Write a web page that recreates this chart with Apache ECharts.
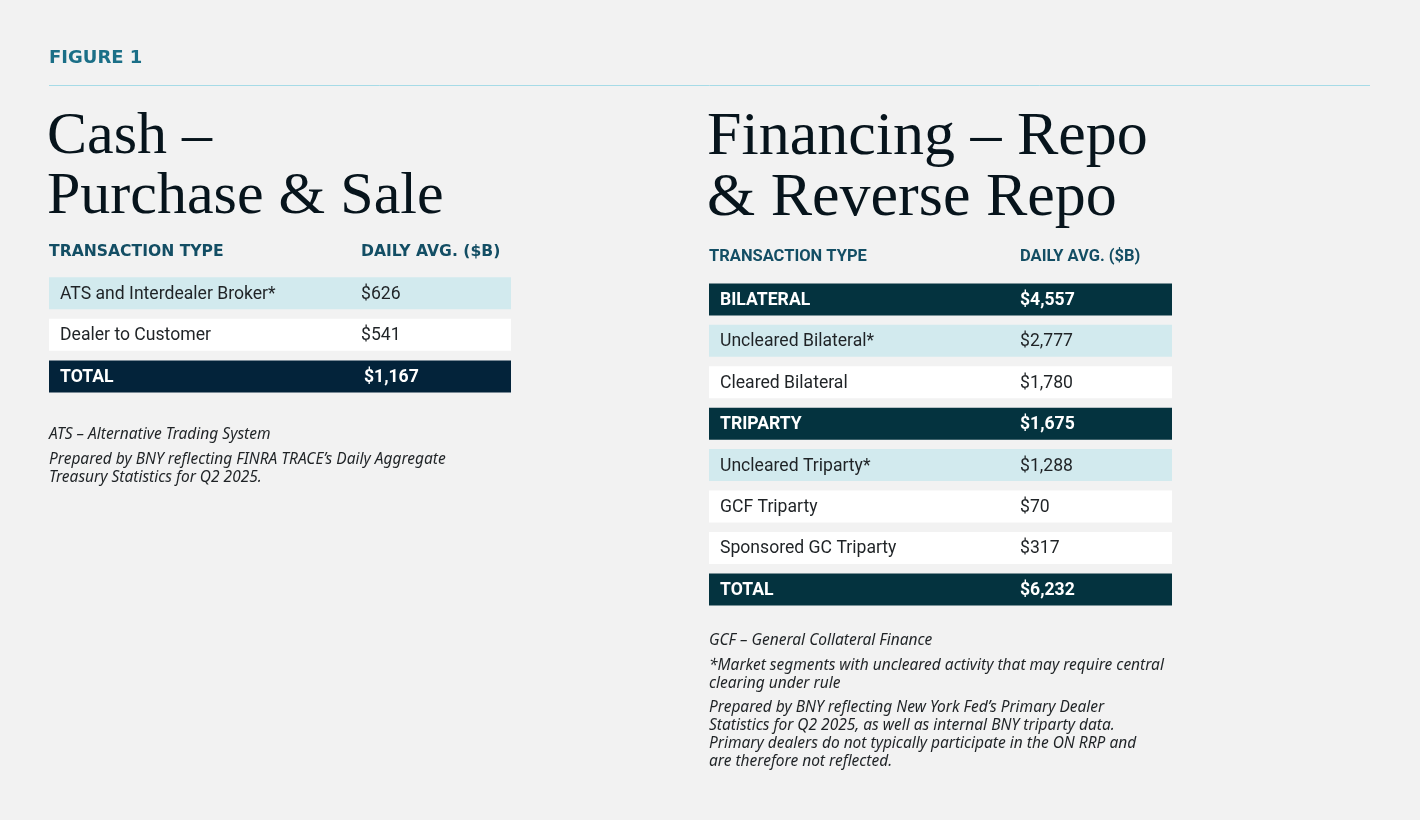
<!DOCTYPE html>
<html>
<head>
<meta charset="utf-8">
<script src="https://cdn.jsdelivr.net/npm/echarts@6/dist/echarts.min.js"></script>
<style>
  html, body { margin: 0; padding: 0; background: #f2f2f2; }
  #chart { width: 1420px; height: 820px; }
</style>
</head>
<body>
<div id="chart"></div>
<script>
// cash table
const cashLabels = ['ATS and Interdealer Broker*', 'Dealer to Customer', 'TOTAL'];
const cashValues = [626, 541, 1167];
const cashKinds = ['uncleared', 'plain', 'total'];

// financing table
const repoLabels = ['BILATERAL', 'Uncleared Bilateral*', 'Cleared Bilateral', 'TRIPARTY',
    'Uncleared Triparty*', 'GCF Triparty', 'Sponsored GC Triparty', 'TOTAL'];
const repoValues = [4557, 2777, 1780, 1675, 1288, 70, 317, 6232];
const repoKinds = ['group', 'uncleared', 'plain', 'group', 'uncleared', 'plain', 'plain', 'total'];

const headers = ['TRANSACTION TYPE', 'DAILY AVG. ($B)'];

const cashNotes = [
    'ATS \u2013 Alternative Trading System',
    'Prepared by BNY reflecting FINRA TRACE\u2019s Daily Aggregate',
    'Treasury Statistics for Q2 2025.'
];
const repoNotes = [
    'GCF \u2013 General Collateral Finance',
    '*Market segments with uncleared activity that may require central',
    'clearing under rule',
    'Prepared by BNY reflecting New York Fed\u2019s Primary Dealer',
    'Statistics for Q2 2025, as well as internal BNY triparty data.',
    'Primary dealers do not typically participate in the ON RRP and',
    'are therefore not reflected.'
];

const SANS = 'Roboto, "Noto Sans", sans-serif';
const NOTE = '"Noto Sans", Roboto, sans-serif';
const SERIF = '"Liberation Serif", serif';
const INK = '#1f2326';
const HEAD = '#134e64';

const fills = {
    plain: '#ffffff',
    uncleared: '#d2eaee',
    group: '#04333f',
    total: '#04333f'
};

function fmt(v) {
    return '$' + v.toLocaleString('en-US');
}

function rowRenderer(labels, values, kinds, valueOffset, totalFill) {
    return function (params, api) {
        const i = api.value(0);
        const a = api.coord([0, i]);
        const b = api.coord([1, i]);
        const h = 32;
        const kind = kinds[i];
        const dark = kind === 'group' || kind === 'total';
        let fill = fills[kind];
        if (kind === 'total' && totalFill) fill = totalFill;
        const weight = dark ? 'bold ' : '';
        const color = dark ? '#ffffff' : INK;
        const vOff = (kind === 'total' && totalFill) ? valueOffset + 3 : valueOffset;
        return {
            type: 'group',
            children: [
                {
                    type: 'rect',
                    shape: { x: a[0], y: a[1] - h / 2, width: b[0] - a[0], height: h },
                    style: { fill: fill }
                },
                {
                    type: 'text',
                    x: a[0] + 11, y: a[1] + 1,
                    style: {
                        text: labels[i], fill: color,
                        font: weight + '17.6px ' + SANS,
                        verticalAlign: 'middle'
                    }
                },
                {
                    type: 'text',
                    x: a[0] + vOff, y: a[1] + 1,
                    style: {
                        text: fmt(values[i]), fill: color,
                        font: weight + '17.6px ' + SANS,
                        verticalAlign: 'middle'
                    }
                }
            ]
        };
    };
}

function txt(x, y, text, font, fill) {
    return { type: 'text', x: x, y: y, style: { text: text, font: font, fill: fill, verticalAlign: 'middle' } };
}

const chart = echarts.init(document.getElementById('chart'));

const graphics = [
    txt(49, 58, 'FIGURE 1', 'bold 18px "DejaVu Sans", sans-serif', '#1b6f87'),
    { type: 'line', shape: { x1: 49, y1: 85.5, x2: 1370, y2: 85.5 }, style: { stroke: '#a6dbe7', lineWidth: 1 } },
    txt(47, 137, 'Cash \u2013', '60px ' + SERIF, '#07141c'),
    txt(47, 197, 'Purchase & Sale', '60px ' + SERIF, '#07141c'),
    txt(707, 138, 'Financing \u2013 Repo', '62px ' + SERIF, '#07141c'),
    txt(707, 199, '& Reverse Repo', '62px ' + SERIF, '#07141c'),
    txt(49, 252, headers[0], 'bold 15.6px "DejaVu Sans", sans-serif', HEAD),
    txt(361, 252, headers[1], 'bold 15.6px "DejaVu Sans", sans-serif', HEAD),
    txt(709, 257, headers[0], 'bold 16.5px ' + SANS, HEAD),
    txt(1020, 257, headers[1], 'bold 16.5px ' + SANS, HEAD)
];

const cashNoteY = [435, 460, 478];
cashNotes.forEach(function (t, k) {
    graphics.push(txt(49, cashNoteY[k], t, 'italic 15.5px ' + NOTE, INK));
});
const repoNoteY = [641, 666, 684, 708, 726, 744, 762];
repoNotes.forEach(function (t, k) {
    graphics.push(txt(709, repoNoteY[k], t, 'italic 15.5px ' + NOTE, INK));
});

const option = {
    backgroundColor: '#f2f2f2',
    animation: false,
    grid: [
        { left: 49, width: 462, top: 272.3, height: 125 },
        { left: 709, width: 463, top: 278.7, height: 331.4 }
    ],
    xAxis: [
        { gridIndex: 0, type: 'value', min: 0, max: 1, show: false },
        { gridIndex: 1, type: 'value', min: 0, max: 1, show: false }
    ],
    yAxis: [
        { gridIndex: 0, type: 'category', inverse: true, data: cashLabels, show: false },
        { gridIndex: 1, type: 'category', inverse: true, data: repoLabels, show: false }
    ],
    graphic: graphics,
    series: [
        {
            type: 'custom',
            xAxisIndex: 0, yAxisIndex: 0,
            renderItem: rowRenderer(cashLabels, cashValues, cashKinds, 312, '#03233a'),
            data: cashLabels.map(function (l, i) { return [i]; }),
            encode: { y: 0 }
        },
        {
            type: 'custom',
            xAxisIndex: 1, yAxisIndex: 1,
            renderItem: rowRenderer(repoLabels, repoValues, repoKinds, 311, null),
            data: repoLabels.map(function (l, i) { return [i]; }),
            encode: { y: 0 }
        }
    ]
};

chart.setOption(option);
</script>
</body>
</html>
